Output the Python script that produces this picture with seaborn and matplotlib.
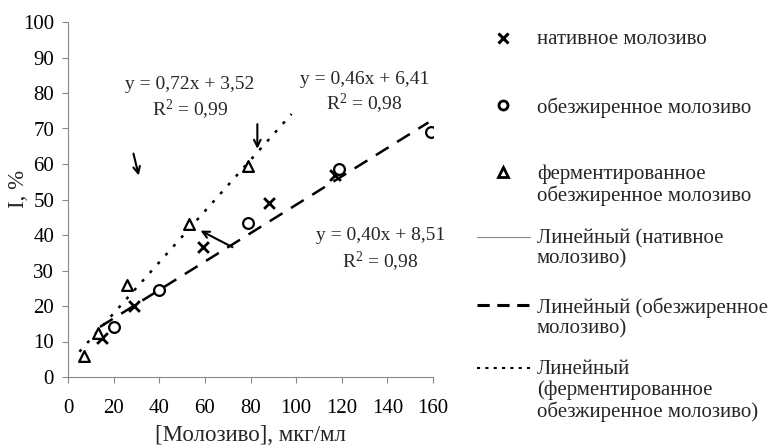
import matplotlib
matplotlib.use('Agg')
import matplotlib.pyplot as plt
from matplotlib.lines import Line2D
import seaborn as sns
import pandas as pd
import numpy as np

# measured points
native_x = [15, 29, 59, 88, 117]
native_y = [11, 20, 36.5, 49, 57]
skim_x = [20, 40, 79, 119, 159]
skim_y = [14, 24.5, 43.5, 58.5, 69]
ferm_x = [7, 13, 26, 53, 79]
ferm_y = [6, 12.5, 26, 43, 59.5]

# trend lines: slope, intercept, x range
skim_fit = (0.40, 8.51, 14, 158)
ferm_fit = (0.72, 3.52, 5, 98)

labels = ['нативное молозиво',
          'обезжиренное молозиво',
          'ферментированное\nобезжиренное молозиво',
          'Линейный (нативное\nмолозиво)',
          'Линейный (обезжиренное\nмолозиво)',
          'Линейный\n(ферментированное\nобезжиренное молозиво)']

sns.set_theme(style="white")
plt.rcParams['font.family'] = ['Liberation Serif', 'DejaVu Serif']
plt.rcParams['mathtext.fontset'] = 'custom'
plt.rcParams['mathtext.rm'] = 'Liberation Serif'

W, H = 772, 448
fig = plt.figure(figsize=(W / 100, H / 100), dpi=100)
ax = fig.add_axes([68 / W, 1 - 377 / H, 365 / W, 355 / H])


def trend(fit):
    k, b, x0, x1 = fit
    xs = np.array([x0, x1])
    return pd.DataFrame({'x': xs, 'y': k * xs + b})


t = trend(skim_fit)
ax.plot(t['x'], t['y'], color='black', lw=1.8, dashes=(6, 4))
t = trend(ferm_fit)
ax.plot(t['x'], t['y'], color='black', lw=1.8, dashes=(1.2, 3.5))

sns.scatterplot(x=native_x, y=native_y, marker='x', s=60, color='black',
                linewidth=2, ax=ax, zorder=3)
sns.scatterplot(x=skim_x, y=skim_y, marker='o', s=60, facecolor='white',
                edgecolor='black', linewidth=1.6, ax=ax, zorder=3)
sns.scatterplot(x=ferm_x, y=ferm_y, marker='^', s=60, facecolor='white',
                edgecolor='black', linewidth=1.6, ax=ax, zorder=3)

ax.set_xlim(0, 160)
ax.set_ylim(0, 100)
ax.set_xticks(range(0, 161, 20))
ax.set_yticks(range(0, 101, 10))
ax.tick_params(axis='both', labelsize=15, length=4, width=0.8,
               colors='#888888', labelcolor='black', direction='out')
ax.tick_params(axis='x', pad=12)
ax.tick_params(axis='y', pad=6)
ax.tick_params(axis='both', bottom=True, left=True)
for side in ['top', 'right']:
    ax.spines[side].set_visible(False)
for side in ['left', 'bottom']:
    ax.spines[side].set_color('#888888')
    ax.spines[side].set_linewidth(0.8)

ax.set_xlabel('[Молозиво], мкг/мл', fontsize=16.5, labelpad=5)
ax.set_ylabel('I, %', fontsize=16.5)
ax.yaxis.set_label_coords(-0.107, 0.53)

txt = dict(fontsize=14, ha='center', va='center')
ax.text(53.5, 82.4, 'y = 0,72x + 3,52', **txt)
ax.text(53.5, 75.1, r'$\mathregular{R^2}$ = 0,99', **txt)
ax.text(130, 83.9, 'y = 0,46x + 6,41', **txt)
ax.text(130, 77, r'$\mathregular{R^2}$ = 0,98', **txt)
ax.text(137, 40, 'y = 0,40x + 8,51', **txt)
ax.text(137, 32.5, r'$\mathregular{R^2}$ = 0,98', **txt)

arrow = dict(arrowstyle='->', color='black', lw=1.5)
ax.annotate('', xy=(31.3, 56), xytext=(28.4, 63.7), arrowprops=arrow)
ax.annotate('', xy=(83, 63.5), xytext=(83, 72), arrowprops=arrow)
ax.annotate('', xy=(57, 41.6), xytext=(73.2, 36.2), arrowprops=arrow)

# legend drawn by hand so handles sit on the first text line, like Excel
handles = [
    dict(ls='none', marker='x', color='black', ms=6.5, mew=2.2),
    dict(ls='none', marker='o', mfc='white', mec='black', ms=6.5, mew=2),
    dict(ls='none', marker='^', mfc='white', mec='black', ms=6.5, mew=2),
    dict(color='#888888', lw=0.8),
    dict(color='black', lw=2.2, dashes=(4, 2.5)),
    dict(color='black', lw=1.5, dashes=(1.5, 2.5)),
]
rows_y = [38, 105, 172, 237, 305, 368]
for style, label, y in zip(handles, labels, rows_y):
    fy = 1 - y / H
    if style.get('marker'):
        xs = [503 / W]
    else:
        xs = [477 / W, 530 / W]
    fig.add_artist(Line2D(xs, [fy] * len(xs), transform=fig.transFigure, **style))
    fig.text(537 / W, 1 - (y - 8) / H, label, fontsize=15, va='top',
             ha='left', linespacing=1.1)

fig.savefig('out.png', dpi=100)
